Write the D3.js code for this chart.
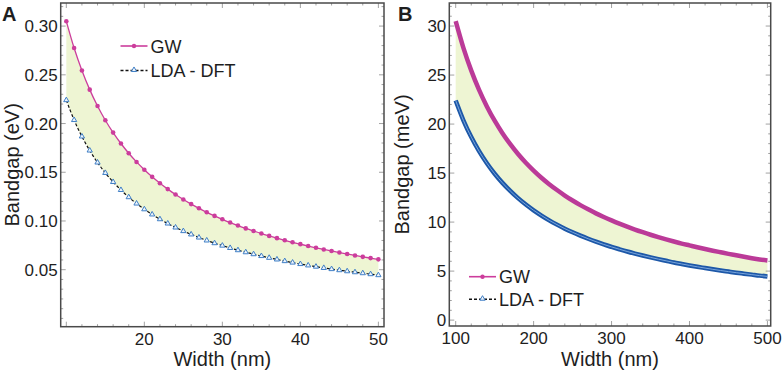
<!DOCTYPE html>
<html>
<head>
<meta charset="utf-8">
<script src="https://cdn.jsdelivr.net/npm/d3@7"></script>
<style>
  body { margin: 0; background: #fff; }
  svg text { font-family: "Liberation Sans", Arial, sans-serif; fill: #1e1e1e; }
</style>
</head>
<body>
<div id="chart"></div>
<script>
// DATA //
// panel A: width in nm, bandgap in eV
const widthA = [10, 11, 12, 13, 14, 15, 16, 17, 18, 19, 20, 21, 22, 23, 24, 25, 26, 27, 28, 29, 30,
  31, 32, 33, 34, 35, 36, 37, 38, 39, 40, 41, 42, 43, 44, 45, 46, 47, 48, 49, 50];
const gwA = [0.3050, 0.2775, 0.2545, 0.2348, 0.2180, 0.2034, 0.1907, 0.1795, 0.1695, 0.1606, 0.1526,
  0.1453, 0.1387, 0.1327, 0.1271, 0.1220, 0.1173, 0.1130, 0.1089, 0.1052, 0.1017,
  0.0984, 0.0953, 0.0924, 0.0897, 0.0871, 0.0847, 0.0824, 0.0802, 0.0781, 0.0762,
  0.0743, 0.0725, 0.0708, 0.0692, 0.0676, 0.0661, 0.0646, 0.0632, 0.0619, 0.0606];
const ldaA = [0.2240, 0.2036, 0.1867, 0.1723, 0.1600, 0.1493, 0.1400, 0.1318, 0.1244, 0.1179, 0.1120,
  0.1067, 0.1018, 0.0974, 0.0933, 0.0896, 0.0862, 0.0830, 0.0800, 0.0772, 0.0747,
  0.0723, 0.0700, 0.0679, 0.0659, 0.0640, 0.0622, 0.0605, 0.0588, 0.0573, 0.0558,
  0.0544, 0.0531, 0.0518, 0.0506, 0.0495, 0.0484, 0.0474, 0.0464, 0.0454, 0.0444];

// panel B: width in nm, bandgap in meV
const widthB = [100, 110, 120, 130, 140, 150, 160, 170, 180, 190, 200, 210, 220, 230, 240, 250, 260, 270, 280, 290, 300,
  310, 320, 330, 340, 350, 360, 370, 380, 390, 400, 410, 420, 430, 440, 450, 460, 470, 480, 490, 500];
const gwB = [30.50, 27.75, 25.45, 23.48, 21.80, 20.34, 19.07, 17.95, 16.95, 16.06, 15.26,
  14.53, 13.87, 13.27, 12.71, 12.20, 11.73, 11.30, 10.89, 10.52, 10.17,
  9.84, 9.53, 9.24, 8.97, 8.71, 8.47, 8.24, 8.02, 7.81, 7.62,
  7.43, 7.25, 7.08, 6.92, 6.76, 6.61, 6.46, 6.32, 6.19, 6.08];
const ldaB = [22.40, 20.36, 18.67, 17.23, 16.00, 14.93, 14.00, 13.18, 12.44, 11.79, 11.20,
  10.67, 10.18, 9.74, 9.33, 8.96, 8.62, 8.30, 8.00, 7.72, 7.47,
  7.23, 7.00, 6.79, 6.59, 6.40, 6.22, 6.05, 5.88, 5.73, 5.58,
  5.44, 5.31, 5.18, 5.06, 4.95, 4.84, 4.74, 4.64, 4.54, 4.46];

// tick values
const xTicksA = [10, 20, 30, 40, 50];
const xLabelsA = ["", "20", "30", "40", "50"];
const yTicksA = [0.05, 0.10, 0.15, 0.20, 0.25, 0.30];
const xTicksB = [100, 200, 300, 400, 500];
const yTicksB = [0, 5, 10, 15, 20, 25, 30];

const seriesNames = ["GW", "LDA - DFT"];

// STYLE //
const GW_COLOR = '#cc3d9c';
const GW_COLOR_B = '#bb3a98';
const LDA_MARK = '#3f7fc6';
const LDA_COLOR_B = '#1d58a8';
const FILL_COLOR = '#eef5d3';

const svg = d3.select('#chart')
  .append('svg')
  .attr('width', 782)
  .attr('height', 370);

// draw one framed panel
function drawPanel (opt) {
  const x = d3.scaleLinear().domain(opt.xDomain).range([opt.left, opt.right]);
  const y = d3.scaleLinear().domain(opt.yDomain).range([opt.bottom, opt.top]);
  const g = svg.append('g');

  // shaded band between the two curves
  const band = opt.xs.map((d, i) => ({ x: d, hi: opt.gw[i], lo: opt.lda[i] }));
  g.append('path')
    .datum(band)
    .attr('d', d3.area().x(d => x(d.x)).y0(d => y(d.lo)).y1(d => y(d.hi)).curve(d3.curveMonotoneX))
    .attr('fill', FILL_COLOR);

  // minor + major ticks on all four sides, pointing inward
  const tickG = g.append('g').attr('stroke', '#8a8a8a').attr('stroke-width', 0.8);
  const minorX = d3.range(opt.xMinor[0], opt.xDomain[1], opt.xMinor[1]);
  const minorY = d3.range(opt.yMinor[0], opt.yDomain[1], opt.yMinor[1]);
  const isMajor = (v, arr) => arr.some(m => Math.abs(m - v) < 1e-9);
  minorX.forEach(v => {
    const len = isMajor(v, opt.xTicks) ? 5 : 2.5;
    tickG.append('line').attr('x1', x(v)).attr('x2', x(v)).attr('y1', opt.bottom).attr('y2', opt.bottom - len);
    tickG.append('line').attr('x1', x(v)).attr('x2', x(v)).attr('y1', opt.top).attr('y2', opt.top + len);
  });
  minorY.forEach(v => {
    const len = isMajor(v, opt.yTicks) ? 5 : 2.5;
    tickG.append('line').attr('x1', opt.left).attr('x2', opt.left + len).attr('y1', y(v)).attr('y2', y(v));
    tickG.append('line').attr('x1', opt.right).attr('x2', opt.right - len).attr('y1', y(v)).attr('y2', y(v));
  });

  // frame
  g.append('rect')
    .attr('x', opt.left).attr('y', opt.top)
    .attr('width', opt.right - opt.left).attr('height', opt.bottom - opt.top)
    .attr('fill', 'none').attr('stroke', '#4a4a4a').attr('stroke-width', 1.5);

  // tick labels
  g.selectAll('.ylab').data(opt.yTicks).join('text')
    .attr('x', opt.left - 3).attr('y', d => y(d) + 6)
    .attr('text-anchor', 'end').attr('font-size', 17)
    .text(opt.yFmt);
  g.selectAll('.xlab').data(opt.xTicks).join('text')
    .attr('x', d => x(d)).attr('y', opt.bottom + 18)
    .attr('text-anchor', 'middle').attr('font-size', 17)
    .text((d, i) => opt.xLabels[i]);

  // axis titles
  g.append('text')
    .attr('transform', `translate(${opt.yTitleX}, ${(opt.top + opt.bottom) / 2}) rotate(-90)`)
    .attr('text-anchor', 'middle').attr('font-size', 20)
    .text(opt.yTitle);
  g.append('text')
    .attr('x', (opt.left + opt.right) / 2).attr('y', 366)
    .attr('text-anchor', 'middle').attr('font-size', 20)
    .text('Width (nm)');

  // panel letter
  g.append('text')
    .attr('x', opt.letterX).attr('y', 21)
    .attr('font-size', 20).attr('font-weight', 'bold').attr('fill', '#111')
    .text(opt.letter);

  return { x, y, g };
}

// PANEL A
const A = drawPanel({
  left: 60.7, right: 384, top: 3, bottom: 326.7,
  xDomain: [9.28, 50.72], yDomain: [-0.0085, 0.3237],
  xTicks: xTicksA, xLabels: xLabelsA, yTicks: yTicksA,
  xMinor: [10, 2], yMinor: [0, 0.01],
  yFmt: d3.format('.2f'),
  xs: widthA, gw: gwA, lda: ldaA,
  yTitle: 'Bandgap (eV)', yTitleX: 19, letter: 'A', letterX: 2
});

const lineA = (vals) => d3.line().x((d, i) => A.x(widthA[i])).y(d => A.y(d)).curve(d3.curveMonotoneX)(vals);

A.g.append('path').attr('d', lineA(ldaA))
  .attr('fill', 'none').attr('stroke', '#111').attr('stroke-width', 1.2).attr('stroke-dasharray', '3,2');
A.g.append('path').attr('d', lineA(gwA))
  .attr('fill', 'none').attr('stroke', GW_COLOR).attr('stroke-width', 1.3);

const tri = d3.symbol().type(d3.symbolTriangle).size(12);
A.g.selectAll('.ldaPt').data(ldaA).join('path')
  .attr('d', tri)
  .attr('transform', (d, i) => `translate(${A.x(widthA[i])}, ${A.y(d)})`)
  .attr('fill', '#eef4fb').attr('stroke', LDA_MARK).attr('stroke-width', 1);
A.g.selectAll('.gwPt').data(gwA).join('circle')
  .attr('cx', (d, i) => A.x(widthA[i])).attr('cy', d => A.y(d))
  .attr('r', 2.3).attr('fill', GW_COLOR);

// PANEL B
const B = drawPanel({
  left: 449.3, right: 770.7, top: 3, bottom: 326,
  xDomain: [91.8, 504.2], yDomain: [-0.6, 32.35],
  xTicks: xTicksB, xLabels: xTicksB.map(String), yTicks: yTicksB,
  xMinor: [100, 20], yMinor: [0, 1],
  yFmt: d3.format('d'),
  xs: widthB, gw: gwB, lda: ldaB,
  yTitle: 'Bandgap (meV)', yTitleX: 409, letter: 'B', letterX: 398
});

const lineB = (vals) => d3.line().x((d, i) => B.x(widthB[i])).y(d => B.y(d)).curve(d3.curveMonotoneX)(vals);

B.g.append('path').attr('d', lineB(ldaB))
  .attr('fill', 'none').attr('stroke', LDA_COLOR_B).attr('stroke-width', 4.5);
B.g.append('path').attr('d', lineB(ldaB))
  .attr('fill', 'none').attr('stroke', '#7aa6dc').attr('stroke-width', 1);
B.g.append('path').attr('d', lineB(gwB))
  .attr('fill', 'none').attr('stroke', GW_COLOR_B).attr('stroke-width', 4.5);

// LEGENDS
function drawLegend (x0, y0, dy) {
  const lg = svg.append('g');
  seriesNames.forEach((name, i) => {
    const yy = y0 + i * dy;
    const l = lg.append('line')
      .attr('x1', x0).attr('x2', x0 + 27).attr('y1', yy).attr('y2', yy);
    if (i === 0) {
      l.attr('stroke', GW_COLOR).attr('stroke-width', 1.6);
      lg.append('circle').attr('cx', x0 + 13.5).attr('cy', yy).attr('r', 2.2).attr('fill', GW_COLOR);
    } else {
      l.attr('stroke', '#111').attr('stroke-width', 1.4).attr('stroke-dasharray', '3,2');
      lg.append('path').attr('d', tri)
        .attr('transform', `translate(${x0 + 13.5}, ${yy - 0.5})`)
        .attr('fill', '#eef4fb').attr('stroke', LDA_MARK).attr('stroke-width', 1);
    }
    lg.append('text')
      .attr('x', x0 + 30).attr('y', yy + 6.5)
      .attr('font-size', 18)
      .text(name);
  });
}

drawLegend(120.5, 46, 24.5);
drawLegend(469, 276.7, 22.5);
</script>
</body>
</html>
